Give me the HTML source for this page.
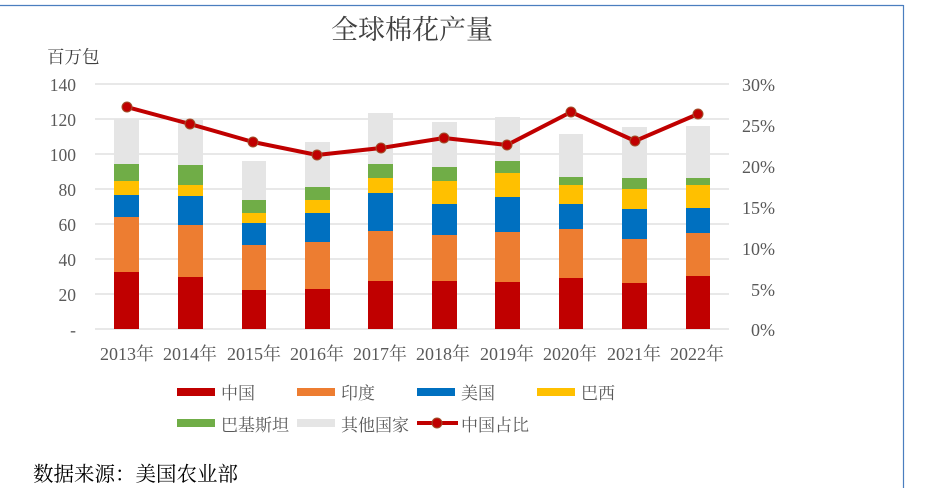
<!DOCTYPE html>
<html><head><meta charset="utf-8"><style>
html,body{margin:0;padding:0;background:#fff;}
svg{display:block;font-family:"Liberation Serif","Noto Serif CJK SC",serif;}
</style></head><body>
<svg width="927" height="488" viewBox="0 0 927 488" xmlns="http://www.w3.org/2000/svg">
<line x1="0" y1="5.5" x2="903.5" y2="5.5" stroke="#4a7ebf" stroke-width="1.2"/>
<line x1="903.5" y1="5" x2="903.5" y2="488" stroke="#4a7ebf" stroke-width="1.2"/>
<text x="412" y="39" font-size="27" fill="#404040" text-anchor="middle">全球棉花产量</text>
<text x="47" y="63" font-size="17.5" fill="#404040">百万包</text>
<g stroke="#d9d9d9" stroke-width="1.2">
<line x1="95" y1="84" x2="729" y2="84"/><line x1="95" y1="119" x2="729" y2="119"/>
<line x1="95" y1="154" x2="729" y2="154"/><line x1="95" y1="189" x2="729" y2="189"/>
<line x1="95" y1="224" x2="729" y2="224"/><line x1="95" y1="259" x2="729" y2="259"/>
<line x1="95" y1="294" x2="729" y2="294"/><line x1="95" y1="329" x2="729" y2="329"/>
</g>
<g font-size="17.5" fill="#595959" text-anchor="end">
<text x="76" y="91">140</text><text x="76" y="126">120</text><text x="76" y="161">100</text>
<text x="76" y="196">80</text><text x="76" y="231">60</text><text x="76" y="266">40</text>
<text x="76" y="301">20</text><text x="76" y="336">-</text>
</g>
<g font-size="18" fill="#595959">
<text x="742" y="91">30%</text><text x="742" y="132">25%</text><text x="742" y="173">20%</text>
<text x="742" y="214">15%</text><text x="742" y="255">10%</text><text x="751" y="296">5%</text>
<text x="751" y="336">0%</text>
</g>
<g>
<rect x="114" y="119" width="25" height="45" fill="#e5e5e5"/><rect x="114" y="164" width="25" height="17" fill="#70ad47"/><rect x="114" y="181" width="25" height="14" fill="#ffc000"/><rect x="114" y="195" width="25" height="22" fill="#0070c0"/><rect x="114" y="217" width="25" height="55" fill="#ed7d31"/><rect x="114" y="272" width="25" height="57" fill="#c00000"/>
<rect x="178" y="120" width="25" height="45" fill="#e5e5e5"/><rect x="178" y="165" width="25" height="20" fill="#70ad47"/><rect x="178" y="185" width="25" height="11" fill="#ffc000"/><rect x="178" y="196" width="25" height="29" fill="#0070c0"/><rect x="178" y="225" width="25" height="52" fill="#ed7d31"/><rect x="178" y="277" width="25" height="52" fill="#c00000"/>
<rect x="242" y="161" width="24" height="39" fill="#e5e5e5"/><rect x="242" y="200" width="24" height="13" fill="#70ad47"/><rect x="242" y="213" width="24" height="10" fill="#ffc000"/><rect x="242" y="223" width="24" height="22" fill="#0070c0"/><rect x="242" y="245" width="24" height="45" fill="#ed7d31"/><rect x="242" y="290" width="24" height="39" fill="#c00000"/>
<rect x="305" y="142" width="25" height="45" fill="#e5e5e5"/><rect x="305" y="187" width="25" height="13" fill="#70ad47"/><rect x="305" y="200" width="25" height="13" fill="#ffc000"/><rect x="305" y="213" width="25" height="29" fill="#0070c0"/><rect x="305" y="242" width="25" height="47" fill="#ed7d31"/><rect x="305" y="289" width="25" height="40" fill="#c00000"/>
<rect x="368" y="113" width="25" height="51" fill="#e5e5e5"/><rect x="368" y="164" width="25" height="14" fill="#70ad47"/><rect x="368" y="178" width="25" height="15" fill="#ffc000"/><rect x="368" y="193" width="25" height="38" fill="#0070c0"/><rect x="368" y="231" width="25" height="50" fill="#ed7d31"/><rect x="368" y="281" width="25" height="48" fill="#c00000"/>
<rect x="432" y="122" width="25" height="45" fill="#e5e5e5"/><rect x="432" y="167" width="25" height="14" fill="#70ad47"/><rect x="432" y="181" width="25" height="23" fill="#ffc000"/><rect x="432" y="204" width="25" height="31" fill="#0070c0"/><rect x="432" y="235" width="25" height="46" fill="#ed7d31"/><rect x="432" y="281" width="25" height="48" fill="#c00000"/>
<rect x="495" y="117" width="25" height="44" fill="#e5e5e5"/><rect x="495" y="161" width="25" height="12" fill="#70ad47"/><rect x="495" y="173" width="25" height="24" fill="#ffc000"/><rect x="495" y="197" width="25" height="35" fill="#0070c0"/><rect x="495" y="232" width="25" height="50" fill="#ed7d31"/><rect x="495" y="282" width="25" height="47" fill="#c00000"/>
<rect x="559" y="134" width="24" height="43" fill="#e5e5e5"/><rect x="559" y="177" width="24" height="8" fill="#70ad47"/><rect x="559" y="185" width="24" height="19" fill="#ffc000"/><rect x="559" y="204" width="24" height="25" fill="#0070c0"/><rect x="559" y="229" width="24" height="49" fill="#ed7d31"/><rect x="559" y="278" width="24" height="51" fill="#c00000"/>
<rect x="622" y="127" width="25" height="51" fill="#e5e5e5"/><rect x="622" y="178" width="25" height="11" fill="#70ad47"/><rect x="622" y="189" width="25" height="20" fill="#ffc000"/><rect x="622" y="209" width="25" height="30" fill="#0070c0"/><rect x="622" y="239" width="25" height="44" fill="#ed7d31"/><rect x="622" y="283" width="25" height="46" fill="#c00000"/>
<rect x="686" y="126" width="24" height="52" fill="#e5e5e5"/><rect x="686" y="178" width="24" height="7" fill="#70ad47"/><rect x="686" y="185" width="24" height="23" fill="#ffc000"/><rect x="686" y="208" width="24" height="25" fill="#0070c0"/><rect x="686" y="233" width="24" height="43" fill="#ed7d31"/><rect x="686" y="276" width="24" height="53" fill="#c00000"/>
</g>
<polyline points="127,107 190,124 253,142 317,155 381,148 444,138 507,145 571,112 635,141 698,114" fill="none" stroke="#c00000" stroke-width="4" stroke-linejoin="round"/>
<g fill="#c00000" stroke="#a0522d" stroke-width="1">
<circle cx="127" cy="107" r="5"/><circle cx="190" cy="124" r="5"/><circle cx="253" cy="142" r="5"/><circle cx="317" cy="155" r="5"/><circle cx="381" cy="148" r="5"/><circle cx="444" cy="138" r="5"/><circle cx="507" cy="145" r="5"/><circle cx="571" cy="112" r="5"/><circle cx="635" cy="141" r="5"/><circle cx="698" cy="114" r="5"/>
</g>
<g font-size="18" fill="#595959" text-anchor="middle">
<text x="127" y="360">2013年</text><text x="190" y="360">2014年</text><text x="254" y="360">2015年</text>
<text x="317" y="360">2016年</text><text x="380" y="360">2017年</text><text x="443" y="360">2018年</text>
<text x="507" y="360">2019年</text><text x="570" y="360">2020年</text><text x="634" y="360">2021年</text>
<text x="697" y="360">2022年</text>
</g>
<g font-size="17" fill="#595959">
<rect x="177" y="388" width="38" height="8" fill="#c00000"/><text x="221" y="399">中国</text>
<rect x="297" y="388" width="38" height="8" fill="#ed7d31"/><text x="341" y="399">印度</text>
<rect x="417" y="388" width="38" height="8" fill="#0070c0"/><text x="461" y="399">美国</text>
<rect x="537" y="388" width="38" height="8" fill="#ffc000"/><text x="581" y="399">巴西</text>
<rect x="177" y="419" width="38" height="8" fill="#70ad47"/><text x="221" y="431">巴基斯坦</text>
<rect x="297" y="419" width="38" height="8" fill="#e5e5e5"/><text x="341" y="431">其他国家</text>
<line x1="417" y1="423" x2="458" y2="423" stroke="#c00000" stroke-width="4"/>
<circle cx="437" cy="423" r="5" fill="#c00000" stroke="#a0522d"/>
<text x="461" y="431">中国占比</text>
</g>
<text x="33" y="481" font-size="20.5" fill="#000">数据来源：美国农业部</text>
</svg>
</body></html>
